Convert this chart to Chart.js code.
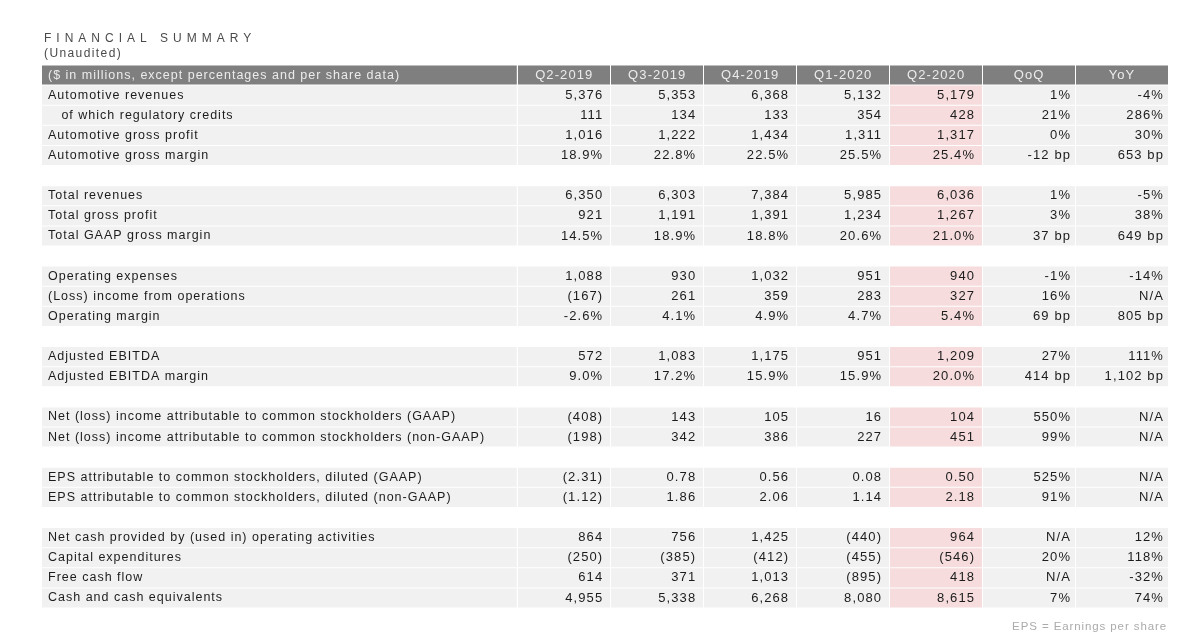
<!DOCTYPE html>
<html>
<head>
<meta charset="utf-8">
<title>Financial Summary</title>
<script src="https://cdn.jsdelivr.net/npm/chart.js@4.4.0/dist/chart.umd.min.js"></script>
<style>
  html, body { margin: 0; padding: 0; background: #fff; }
  #wrap { width: 1200px; height: 632px; position: relative; }
</style>
</head>
<body>
<div id="wrap"><canvas id="summaryChart"></canvas></div>
<script>
// ─── Data ─────────────────────────────────────────────────
// row 0 is the header row, '' rows are the white spacer rows
const rowLabels = [
  '($ in millions, except percentages and per share data)',
  'Automotive revenues',
  '   of which regulatory credits',
  'Automotive gross profit',
  'Automotive gross margin',
  '',
  'Total revenues',
  'Total gross profit',
  'Total GAAP gross margin',
  '',
  'Operating expenses',
  '(Loss) income from operations',
  'Operating margin',
  '',
  'Adjusted EBITDA',
  'Adjusted EBITDA margin',
  '',
  'Net (loss) income attributable to common stockholders (GAAP)',
  'Net (loss) income attributable to common stockholders (non-GAAP)',
  '',
  'EPS attributable to common stockholders, diluted (GAAP)',
  'EPS attributable to common stockholders, diluted (non-GAAP)',
  '',
  'Net cash provided by (used in) operating activities',
  'Capital expenditures',
  'Free cash flow',
  'Cash and cash equivalents',
];

const colHeaders = ['Q2-2019', 'Q3-2019', 'Q4-2019', 'Q1-2020', 'Q2-2020', 'QoQ', 'YoY'];

// one entry per body row (rowLabels[1..])
const q2_2019 = ['5,376', '111', '1,016', '18.9%', '', '6,350', '921', '14.5%', '', '1,088', '(167)', '-2.6%', '', '572', '9.0%', '', '(408)', '(198)', '', '(2.31)', '(1.12)', '', '864', '(250)', '614', '4,955'];
const q3_2019 = ['5,353', '134', '1,222', '22.8%', '', '6,303', '1,191', '18.9%', '', '930', '261', '4.1%', '', '1,083', '17.2%', '', '143', '342', '', '0.78', '1.86', '', '756', '(385)', '371', '5,338'];
const q4_2019 = ['6,368', '133', '1,434', '22.5%', '', '7,384', '1,391', '18.8%', '', '1,032', '359', '4.9%', '', '1,175', '15.9%', '', '105', '386', '', '0.56', '2.06', '', '1,425', '(412)', '1,013', '6,268'];
const q1_2020 = ['5,132', '354', '1,311', '25.5%', '', '5,985', '1,234', '20.6%', '', '951', '283', '4.7%', '', '951', '15.9%', '', '16', '227', '', '0.08', '1.14', '', '(440)', '(455)', '(895)', '8,080'];
const q2_2020 = ['5,179', '428', '1,317', '25.4%', '', '6,036', '1,267', '21.0%', '', '940', '327', '5.4%', '', '1,209', '20.0%', '', '104', '451', '', '0.50', '2.18', '', '964', '(546)', '418', '8,615'];
const qoq     = ['1%', '21%', '0%', '-12 bp', '', '1%', '3%', '37 bp', '', '-1%', '16%', '69 bp', '', '27%', '414 bp', '', '550%', '99%', '', '525%', '91%', '', 'N/A', '20%', 'N/A', '7%'];
const yoy     = ['-4%', '286%', '30%', '653 bp', '', '-5%', '38%', '649 bp', '', '-14%', 'N/A', '805 bp', '', '111%', '1,102 bp', '', 'N/A', 'N/A', '', 'N/A', 'N/A', '', '12%', '118%', '-32%', '74%'];

const columns = [q2_2019, q3_2019, q4_2019, q1_2020, q2_2020, qoq, yoy];
const highlightCol = 4;

// ─── Styling ──────────────────────────────────────────────
const FONT = '"Liberation Sans", Arial, Helvetica, sans-serif';
const HEADER_BG = '#7f7f7f';
const BODY_BG = '#f1f1f1';
const PINK_BG = '#f6dcdc';
const TEXT = '#1c1c1c';
const HEADER_TEXT = '#ececec';
const LABEL_COL_MIN = -5.113; // label column width in units of one value column

const isBlank = i => i > 0 && rowLabels[i] === '';

// ─── Datasets (cell backgrounds as floating bars) ────────
function cellBars(start, end, colIdx) {
  return {
    data: rowLabels.map((_, i) => isBlank(i) ? null : [start, end]),
    backgroundColor: ctx => {
      if (ctx.dataIndex === 0) return HEADER_BG;
      return colIdx === highlightCol ? PINK_BG : BODY_BG;
    },
    grouped: false,
    barPercentage: 0.95,
    categoryPercentage: 1,
    borderWidth: 0,
  };
}

const datasets = [cellBars(LABEL_COL_MIN, 0, -1)]
  .concat(colHeaders.map((_, c) => cellBars(c, c + 1, c)));

// ─── Cell text plugin ─────────────────────────────────────
const cellText = {
  id: 'cellText',
  beforeDraw(chart) {
    // spacing used by the row labels (y ticks)
    chart.ctx.letterSpacing = '1px';
  },
  afterDraw(chart) {
    const { ctx, scales: { x, y } } = chart;
    ctx.save();
    ctx.textBaseline = 'middle';

    // header row
    ctx.font = `13px ${FONT}`;
    ctx.fillStyle = HEADER_TEXT;
    ctx.textAlign = 'center';
    ctx.letterSpacing = '1.1px';
    colHeaders.forEach((h, c) => {
      ctx.fillText(h, x.getPixelForValue(c + 0.5) + 0.5, y.getPixelForValue(0));
    });

    // body values, right aligned
    ctx.fillStyle = TEXT;
    ctx.textAlign = 'right';
    columns.forEach((col, c) => {
      const pad = c >= 5 ? 4 : 7;
      col.forEach((v, r) => {
        if (!v) return;
        ctx.fillText(v, x.getPixelForValue(c + 1) - pad, y.getPixelForValue(r + 1));
      });
    });

    // title, subtitle, footnote
    ctx.textAlign = 'left';
    ctx.textBaseline = 'alphabetic';
    ctx.fillStyle = '#4a4a4a';
    ctx.font = `12px ${FONT}`;
    ctx.letterSpacing = '5px';
    ctx.fillText('FINANCIAL SUMMARY', 44, 42);
    ctx.letterSpacing = '1.4px';
    ctx.fillText('(Unaudited)', 44, 57);

    ctx.textAlign = 'right';
    ctx.fillStyle = '#ababab';
    ctx.font = `11.5px ${FONT}`;
    ctx.letterSpacing = '0.9px';
    ctx.fillText('EPS = Earnings per share', x.right - 1, 630);
    ctx.restore();
  },
};

// ─── Chart ────────────────────────────────────────────────
new Chart(document.getElementById('summaryChart'), {
  type: 'bar',
  data: { labels: rowLabels, datasets },
  plugins: [cellText],
  options: {
    indexAxis: 'y',
    responsive: true,
    maintainAspectRatio: false,
    animation: false,
    events: [],
    layout: { padding: { top: 65, left: 42, right: 32, bottom: 24 } },
    plugins: {
      legend: { display: false },
      tooltip: { enabled: false },
      title: { display: false },
    },
    scales: {
      x: {
        type: 'linear',
        min: LABEL_COL_MIN,
        max: 7,
        border: { display: false },
        afterFit: s => { s.height = 0; },
        ticks: { display: false, stepSize: 1 },
        grid: {
          z: 1,
          drawTicks: false,
          lineWidth: 1,
          color: ctx => (ctx.tick && ctx.tick.value >= 0 && ctx.tick.value < 7) ? '#ffffff' : 'rgba(0,0,0,0)',
        },
      },
      y: {
        type: 'category',
        border: { display: false },
        afterFit: s => { s.width = 0; },
        grid: { display: false, drawTicks: false },
        ticks: {
          z: 1,
          mirror: true,
          padding: 6,
          autoSkip: false,
          font: { family: FONT, size: 12.5 },
          color: ctx => ctx.index === 0 ? HEADER_TEXT : TEXT,
        },
      },
    },
  },
});
</script>
</body>
</html>
